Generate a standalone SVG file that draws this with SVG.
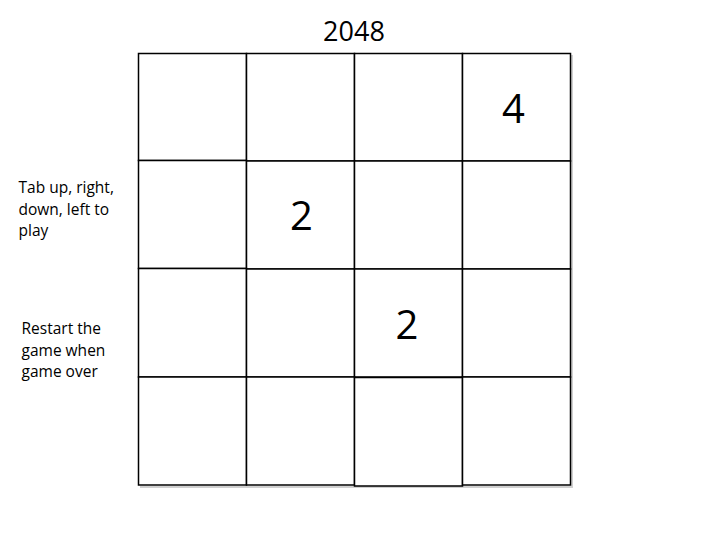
<svg xmlns="http://www.w3.org/2000/svg" width="720" height="540" viewBox="0 0 720 540">
<defs>
<style>
.cell{fill:#ffffff;stroke:#000000;stroke-width:1.5}
.sh{fill:none;stroke:#d0d0d0;stroke-width:2}
.num{font-family:"Open Sans","Liberation Sans",Arial,sans-serif;font-size:40px;fill:#000;text-anchor:middle}
.title{font-family:"Open Sans","Liberation Sans",Arial,sans-serif;font-size:27px;fill:#000;text-anchor:middle}
.note{font-family:"Open Sans","Liberation Sans",Arial,sans-serif;font-size:15.5px;fill:#000}
</style>
</defs>
<rect width="720" height="540" fill="#ffffff"/>
<text id="title" class="title" x="354" y="41">2048</text>
<g id="grid">
<g id="shadows">
<path class="sh" d="M140,487 H572 V55"/>
</g>
<g id="r1">
<rect id="c11" class="cell" x="138.5" y="53.5" width="108" height="107"/>
<rect id="c12" class="cell" x="246.5" y="53.5" width="108" height="107.5"/>
<rect id="c13" class="cell" x="354.5" y="53.5" width="108" height="107.5"/>
<rect id="c14" class="cell" x="462.5" y="53.5" width="108" height="107.5"/>
</g>
<g id="r2">
<rect id="c21" class="cell" x="138.5" y="160.5" width="108" height="108"/>
<rect id="c22" class="cell" x="246.5" y="161" width="108" height="108"/>
<rect id="c23" class="cell" x="354.5" y="161" width="108" height="108"/>
<rect id="c24" class="cell" x="462.5" y="161" width="108" height="108"/>
</g>
<g id="r3">
<rect id="c31" class="cell" x="138.5" y="268.5" width="108" height="108.5"/>
<rect id="c32" class="cell" x="246.5" y="269" width="108" height="108"/>
<rect id="c33" class="cell" x="354.5" y="269" width="108" height="108"/>
<rect id="c34" class="cell" x="462.5" y="269" width="108" height="108"/>
</g>
<g id="r4">
<rect id="c41" class="cell" x="138.5" y="377" width="108" height="108"/>
<rect id="c42" class="cell" x="246.5" y="377" width="108" height="108"/>
<rect id="c43" class="cell" x="354.5" y="377.5" width="108" height="108.5"/>
<rect id="c44" class="cell" x="462.5" y="377" width="108" height="108"/>
</g>
</g>
<g id="tiles">
<text id="t4" class="num" x="513.5" y="123">4</text>
<text id="t2a" class="num" x="301.5" y="230">2</text>
<text id="t2b" class="num" x="407" y="338.5">2</text>
</g>
<g id="notes">
<text class="note" x="18.5" y="193">Tab up, right,</text>
<text class="note" x="18.5" y="214.5">down, left to</text>
<text class="note" x="18.5" y="236">play</text>
<text class="note" x="21.5" y="334">Restart the</text>
<text class="note" x="21.5" y="355.5">game when</text>
<text class="note" x="21.5" y="377">game over</text>
</g>
<g id="connectors"/>
</svg>
